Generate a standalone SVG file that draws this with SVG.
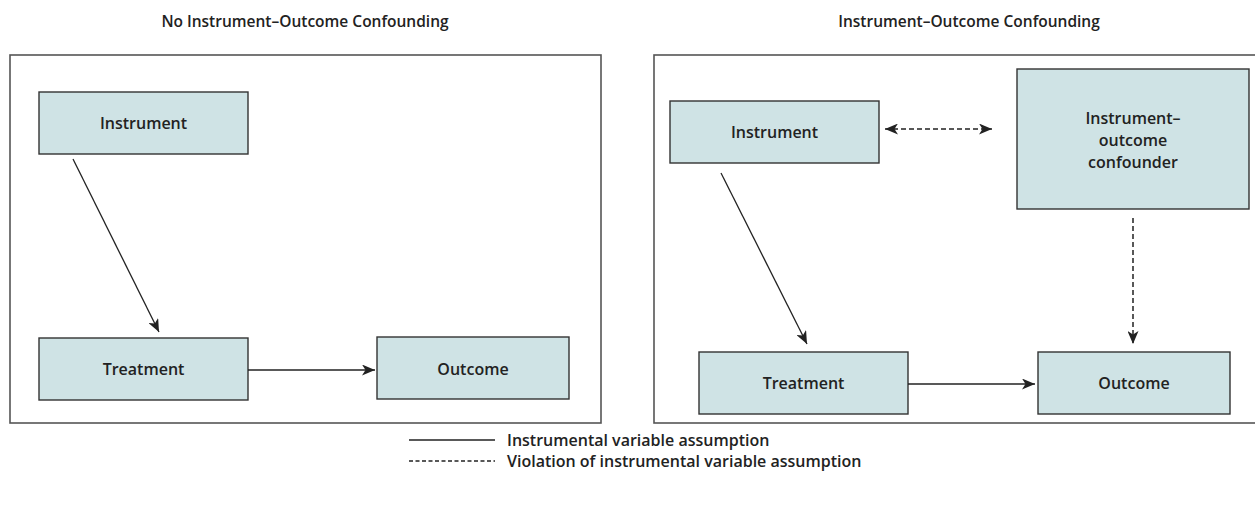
<svg xmlns="http://www.w3.org/2000/svg" width="1255" height="507" viewBox="0 0 1255 507">
<style>
.frame{fill:#fff;stroke:#555;stroke-width:1.6}
.box{fill:#cfe3e5;stroke:#333;stroke-width:1.4}
.lbl{font-family:"Open Sans",sans-serif;font-weight:600;font-size:16px;fill:#222;text-anchor:middle}
.title{font-family:"Open Sans",sans-serif;font-weight:600;font-size:15.5px;fill:#222;text-anchor:middle}
.leg{font-family:"Open Sans",sans-serif;font-weight:600;font-size:16px;fill:#222}
.solid{stroke:#222;stroke-width:1.3;fill:none}
.dash{stroke:#222;stroke-width:1.5;fill:none;stroke-dasharray:5 3}
</style>
<defs>
<marker id="ah" markerUnits="userSpaceOnUse" markerWidth="14" markerHeight="11" refX="13" refY="5.5" orient="auto-start-reverse" viewBox="0 0 14 11">
<path d="M0,0 L13,5.5 L0,11 L3.5,5.5 z" fill="#222"/>
</marker>
</defs>
<rect width="1255" height="507" fill="#fff"/>
<text class="title" x="305" y="27">No Instrument–Outcome Confounding</text>
<text class="title" x="969" y="27">Instrument–Outcome Confounding</text>
<rect class="frame" x="10" y="55" width="591" height="368"/>
<rect class="frame" x="654" y="55" width="620" height="368"/>
<g id="instrument-left"><rect class="box" x="39" y="92" width="209" height="62"/><text class="lbl" x="143.5" y="128.5">Instrument</text></g>
<g id="treatment-left"><rect class="box" x="39" y="338" width="209" height="62"/><text class="lbl" x="143.5" y="374.5">Treatment</text></g>
<g id="outcome-left"><rect class="box" x="377" y="337" width="192" height="62"/><text class="lbl" x="473" y="374.5">Outcome</text></g>
<g id="instrument-right"><rect class="box" x="670" y="101" width="209" height="62"/><text class="lbl" x="774.5" y="137.5">Instrument</text></g>
<g id="confounder"><rect class="box" x="1017" y="69" width="232" height="140"/><text class="lbl" x="1133" y="123.5">Instrument–</text><text class="lbl" x="1133" y="145.5">outcome</text><text class="lbl" x="1133" y="167.5">confounder</text></g>
<g id="treatment-right"><rect class="box" x="699" y="352" width="209" height="62"/><text class="lbl" x="803.5" y="388.5">Treatment</text></g>
<g id="outcome-right"><rect class="box" x="1038" y="352" width="192" height="62"/><text class="lbl" x="1134" y="388.5">Outcome</text></g>
<g id="connectors">
<line class="solid" x1="73" y1="159" x2="159" y2="332" marker-end="url(#ah)"/>
<line class="solid" x1="248" y1="370" x2="375" y2="370" marker-end="url(#ah)"/>
<line class="solid" x1="721" y1="173" x2="807" y2="344" marker-end="url(#ah)"/>
<line class="solid" x1="908" y1="384" x2="1035" y2="384" marker-end="url(#ah)"/>
<line class="dash" x1="885" y1="129" x2="992" y2="129" marker-start="url(#ah)" marker-end="url(#ah)"/>
<line class="dash" x1="1133" y1="218" x2="1133" y2="344" marker-end="url(#ah)"/>
</g>
<g id="legend">
<line class="solid" x1="409" y1="440" x2="495" y2="440"/>
<text class="leg" x="507" y="445.5">Instrumental variable assumption</text>
<line stroke="#222" stroke-width="1.6" stroke-dasharray="4 2.5" x1="409" y1="461" x2="495" y2="461"/>
<text class="leg" x="507" y="466.5">Violation of instrumental variable assumption</text>
</g>
</svg>
